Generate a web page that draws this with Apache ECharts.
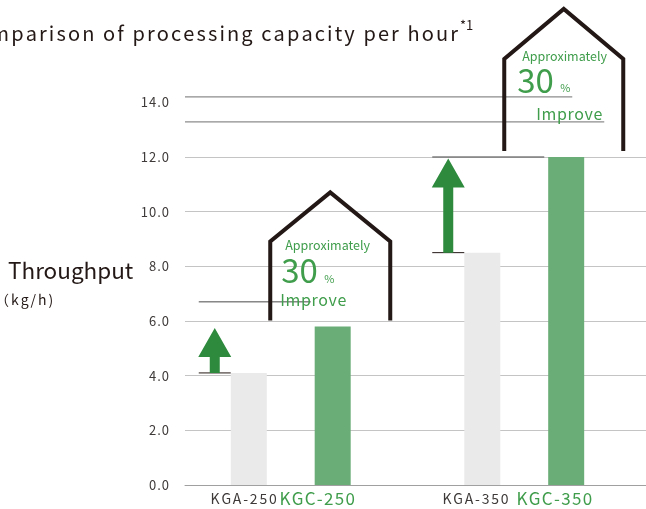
<!DOCTYPE html>
<html>
<head>
<meta charset="utf-8">
<script src="https://cdn.jsdelivr.net/npm/echarts@6/dist/echarts.min.js"></script>
<style>html,body{margin:0;padding:0;background:#fff}#c{width:646px;height:509px}</style>
</head>
<body>
<div id="c"></div>
<script>
const groups = ['250', '350'];
const kgaNames = ['KGA-250', 'KGA-350'];
const kgcNames = ['KGC-250', 'KGC-350'];
const kgaValues = [4.1, 8.5];
const kgcValues = [5.8, 12.0];
const topLineLevels = [6.7, 12.0];
const calloutTexts = ['Approximately', '30', '%', 'Improve'];
const titleText = 'Comparison of processing capacity per hour';
const titleNote = '*1';
const yTitle = 'Throughput';
const yUnit = '（kg/h)';

const FONT = '"Noto Sans CJK JP", "Noto Sans", sans-serif';
const DARK = '#231815';
const GREEN_T = '#3f9d4b';

// letter tracking via rich-text tokens (one token per character)
function track(str, cls) {
  const chars = Array.from(str);
  return chars.map((ch, k) => '{' + (k < chars.length - 1 ? cls : cls + 'e') + '|' + ch + '}').join('');
}
function trackStyles(cls, base, gap) {
  const r = {};
  r[cls] = Object.assign({}, base, {padding: [0, gap, 0, 0]});
  r[cls + 'e'] = Object.assign({}, base);
  return r;
}

const chart = echarts.init(document.getElementById('c'), null, {renderer: 'canvas'});

// per-group callout geometry (px)
const houseGeo = [
  {hw: 60, wall: 79, roof: 49,
   t: [[-45, -75], [-49, -50], [-6, -42], [-50, -21]]},
  {hw: 59.5, wall: 92, roof: 50,
   t: [[-41.5, -95], [-46.5, -71], [-3.5, -63], [-27.5, -37]]}
];

function renderCallout(params, api) {
  const i = params.dataIndex;
  const c = api.value(0);
  const pA = api.coord([c, api.value(1)]);
  const pC = api.coord([c, api.value(2)]);
  const pL = api.coord([c, api.value(3)]);
  const cx = pA[0];
  const g = houseGeo[i];
  const hx = cx + 39.5;
  const base = pC[1] - 6;
  const ax = cx - 76;
  const tip = pC[1] + 1.5;
  const children = [];
  children.push({type: 'line', shape: {x1: cx - 92, y1: pA[1], x2: cx - 60, y2: pA[1]},
    style: {stroke: DARK, lineWidth: 1}});
  children.push({type: 'line', shape: {x1: cx - 92, y1: pL[1], x2: cx + 20, y2: pL[1]},
    style: {stroke: '#4a4a4a', lineWidth: 1}});
  children.push({type: 'polygon', shape: {points: [
    [ax, tip], [ax + 16.5, tip + 29], [ax + 5, tip + 29], [ax + 5, pA[1]],
    [ax - 5, pA[1]], [ax - 5, tip + 29], [ax - 16.5, tip + 29]]},
    style: {fill: '#2e8b3e'}});
  if (i === 1) {
    const gx = params.coordSys.x + 11;
    children.push({type: 'line', shape: {x1: gx, y1: base - 54, x2: cx + 48, y2: base - 54},
      style: {stroke: '#8c8c8c', lineWidth: 1.2}});
    children.push({type: 'line', shape: {x1: gx, y1: base - 29, x2: cx + 80, y2: base - 29},
      style: {stroke: '#8c8c8c', lineWidth: 1.2}});
  }
  children.push({type: 'polyline', shape: {points: [
    [hx - g.hw, base], [hx - g.hw, base - g.wall], [hx, base - g.wall - g.roof],
    [hx + g.hw, base - g.wall], [hx + g.hw, base]]},
    style: {stroke: DARK, lineWidth: 4, fill: null, lineJoin: 'miter'}});
  const sizes = [12.5, 33, 11, 16];
  calloutTexts.forEach((t, k) => {
    const isImp = k === 3;
    children.push({type: 'text', x: hx + g.t[k][0], y: base + g.t[k][1],
      style: {text: isImp ? track(t, 'm') : t, fill: GREEN_T, font: sizes[k] + 'px ' + FONT,
        rich: isImp ? trackStyles('m', {fontSize: 16, fontFamily: FONT, fill: GREEN_T, color: GREEN_T}, 0.6) : undefined,
        textAlign: 'left', textVerticalAlign: 'middle'}});
  });
  return {type: 'group', children};
}

const option = {
  animation: false,
  grid: [
    {left: 185, right: 0, top: 102.3, bottom: 24},
    {left: 174, right: 5, top: 102.3, bottom: 24}
  ],
  xAxis: [
    {type: 'value', gridIndex: 0, min: 0, max: 1,
     axisLine: {show: true, lineStyle: {color: '#a0a0a0', width: 1}},
     axisTick: {show: false}, axisLabel: {show: false}, splitLine: {show: false}},
    {type: 'category', gridIndex: 1, data: groups,
     axisLine: {show: false}, axisTick: {show: false},
     axisLabel: {margin: 5, interval: 0, hideOverlap: false, fontFamily: FONT,
       formatter: (v, idx) => track(kgaNames[idx], 'a') + (idx === 0 ? '{s| }' : '{s2|}') +
         track(kgcNames[idx], 'c') + (idx === 0 ? '{p|}' : '{p2|}'),
       rich: Object.assign(
         trackStyles('a', {color: '#3e3a39', fontSize: 14, fontFamily: FONT}, 1.8),
         trackStyles('c', {color: GREEN_T, fontSize: 17, fontFamily: FONT}, 1.3),
         {s: {fontSize: 12, fontFamily: FONT}, s2: {width: 8}, p: {width: 16}, p2: {width: 14}})}}
  ],
  yAxis: [
    {type: 'value', gridIndex: 0, min: 0, max: 14, interval: 2,
     axisLine: {show: false}, axisTick: {show: false},
     axisLabel: {formatter: v => track(v.toFixed(1), 'y'), margin: 16,
       rich: trackStyles('y', {color: '#3e3a39', fontSize: 13, fontFamily: FONT}, 1)},
     splitLine: {show: true, showMaxLine: false, lineStyle: {color: '#c4c4c4', width: 1}}},
    {type: 'value', gridIndex: 1, min: 0, max: 14, show: false}
  ],
  graphic: [
    {type: 'text', x: 458, y: 33, style: {text: track(titleText, 't'),
      rich: trackStyles('t', {fontSize: 20, fontFamily: FONT, fill: DARK, color: DARK}, 2.1),
      fill: DARK, font: '20px ' + FONT, textAlign: 'right', textVerticalAlign: 'middle'}},
    {type: 'text', x: 460, y: 25, style: {text: titleNote, fill: DARK,
      font: '13px ' + FONT, textAlign: 'left', textVerticalAlign: 'middle'}},
    {type: 'text', x: 8, y: 270, style: {text: yTitle, fill: DARK,
      font: '22.5px ' + FONT, textAlign: 'left', textVerticalAlign: 'middle'}},
    {type: 'text', x: -5, y: 300, style: {text: track(yUnit, 'u'),
      rich: trackStyles('u', {fontSize: 14, fontFamily: FONT, fill: DARK, color: DARK}, 2),
      fill: DARK, font: '14px ' + FONT, textAlign: 'left', textVerticalAlign: 'middle'}}
  ],
  series: [
    {type: 'bar', name: 'KGA', xAxisIndex: 1, yAxisIndex: 1, data: kgaValues,
     barWidth: 36, barGap: '133%', itemStyle: {color: '#e9eae9'}},
    {type: 'bar', name: 'KGC', xAxisIndex: 1, yAxisIndex: 1, data: kgcValues,
     barWidth: 36, barGap: '133%', itemStyle: {color: '#6aad76'}},
    {type: 'custom', xAxisIndex: 1, yAxisIndex: 1, clip: false, z: 5,
     encode: {x: 0, y: 2},
     data: kgaValues.map((v, i) => [i, v, kgcValues[i], topLineLevels[i]]),
     renderItem: renderCallout}
  ]
};
chart.setOption(option);
</script>
</body>
</html>
